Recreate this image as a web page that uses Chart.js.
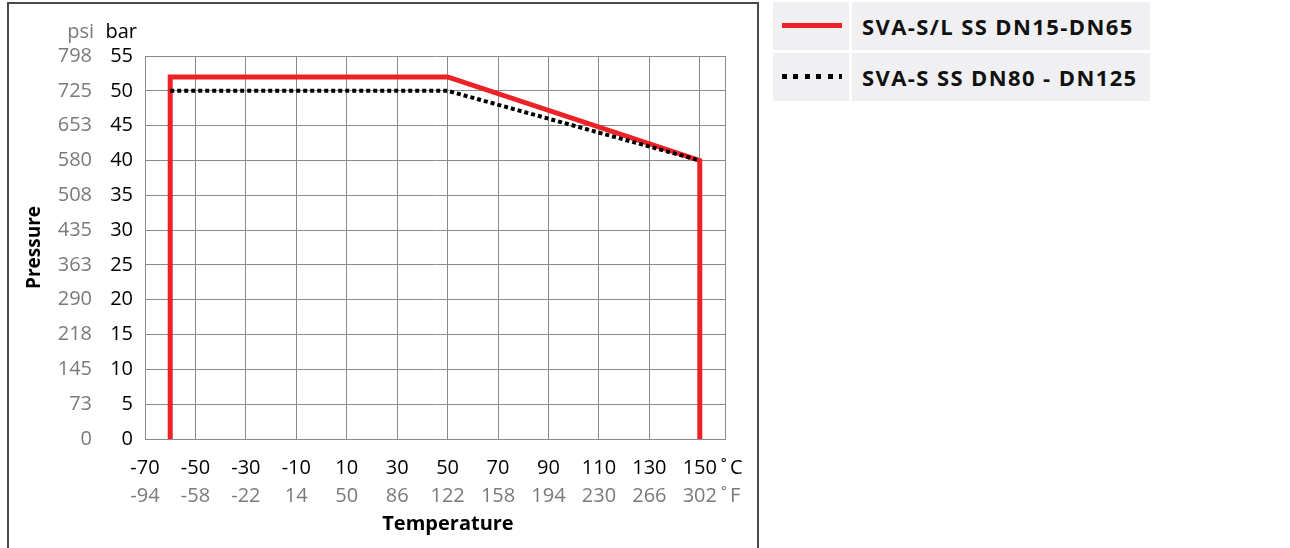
<!DOCTYPE html>
<html lang="en">
<head>
<meta charset="UTF-8">
<script src="https://cdn.jsdelivr.net/npm/chart.js"></script>
<title>Pressure / Temperature</title>
<style>
    body { margin: 0; background: #fff; font-family: "Open Sans", sans-serif; }
    #box { position: absolute; left: 7px; top: 2px; width: 748px; height: 570px; border: 2px solid #4a4a4a; }
    #chart { position: absolute; left: 0; top: 0; }
    #legend { position: absolute; left: 773px; top: 2px; width: 377px; }
    .row { display: flex; height: 48px; margin-bottom: 3px; }
    .sample { width: 76px; margin-right: 3px; background: #f0f0f2; position: relative; }
    .sample span { position: absolute; left: 9px; width: 60px; }
    .name { flex: 1; background: #f0f0f2; font-weight: 700; font-size: 22px; letter-spacing: 1.4px; line-height: 48px; padding-left: 10px; color: #111; }
</style>
</head>
<body>
<div id="box"><canvas id="chart" width="748" height="544"></canvas></div>
<div id="legend"></div>
<script>
    // axis values
    const tempC = [-70, -50, -30, -10, 10, 30, 50, 70, 90, 110, 130, 150];
    const tempF = [-94, -58, -22, 14, 50, 86, 122, 158, 194, 230, 266, 302];
    const pressBar = [0, 5, 10, 15, 20, 25, 30, 35, 40, 45, 50, 55];
    const pressPsi = [0, 73, 145, 218, 290, 363, 435, 508, 580, 653, 725, 798];

    // series
    const seriesNames = ['SVA-S/L SS DN15-DN65', 'SVA-S SS DN80 - DN125'];
    const smallTemp = [-60, -60, 50, 150, 150];
    const smallPress = [0, 52, 52, 40, 0];
    const largeTemp = [-60, 50, 150];
    const largePress = [50, 50, 40];

    const RED = '#ed2227';
    const GRID = '#8a8a8a';
    const GREY = '#7a7a7a';
    const FONT = '"Open Sans", sans-serif';

    const toPoints = (xs, ys) => xs.map((x, i) => ({ x: x, y: ys[i] }));

    // unit headers: psi / bar above the value columns, °C / °F after the last tick
    const units = {
        id: 'units',
        afterDraw(chart) {
            const c = chart.ctx;
            const psi = chart.scales.psi, bar = chart.scales.y;
            const x = chart.scales.x, f = chart.scales.fahr;
            c.save();
            c.font = '20px ' + FONT;
            c.textBaseline = 'middle';
            c.textAlign = 'right';
            c.fillStyle = GREY;
            c.fillText('psi', psi.right - 3, 28);
            c.fillStyle = '#000';
            c.fillText('bar', bar.right - 8, 28);
            c.textAlign = 'left';
            const ux = x.getPixelForValue(tempC[tempC.length - 1]) + 21;
            c.fillText('˚\u2009C', ux, x.top + 29);
            c.fillStyle = GREY;
            c.fillText('˚\u2009F', ux, f.top + 17);
            c.restore();
        }
    };

    const ctx = document.getElementById('chart').getContext('2d');
    const chart = new Chart(ctx, {
        type: 'scatter',
        data: {
            datasets: [{
                label: seriesNames[0],
                data: toPoints(smallTemp, smallPress),
                showLine: true,
                borderColor: RED,
                borderWidth: 5,
                pointRadius: 0,
                fill: false,
                order: 2
            }, {
                label: seriesNames[1],
                data: toPoints(largeTemp, largePress),
                showLine: true,
                borderColor: '#000',
                borderWidth: 4,
                borderDash: [4, 3],
                pointRadius: 0,
                fill: false,
                order: 1
            }]
        },
        options: {
            responsive: false,
            animation: false,
            layout: { padding: { top: 52, right: 32, bottom: 12, left: 0 } },
            plugins: { legend: { display: false }, tooltip: { enabled: false } },
            scales: {
                x: {
                    type: 'linear', position: 'bottom', weight: 0,
                    min: -70, max: 160,
                    afterBuildTicks: s => { s.ticks = tempC.concat([160]).map(v => ({ value: v })); },
                    afterFit: s => { s.height = 40; },
                    grid: { color: GRID, drawTicks: false },
                    border: { color: GRID },
                    ticks: {
                        padding: 17, color: '#000', font: { family: FONT, size: 20 }, maxRotation: 0, autoSkip: false,
                        callback: (v, i) => i < tempC.length ? String(tempC[i]) : ''
                    }
                },
                fahr: {
                    type: 'linear', position: 'bottom', weight: 1,
                    min: -70, max: 160,
                    afterBuildTicks: s => { s.ticks = tempC.concat([160]).map(v => ({ value: v })); },
                    afterFit: s => { s.height = 57; },
                    grid: { display: false, drawTicks: false },
                    border: { display: false },
                    ticks: {
                        padding: 5, color: GREY, font: { family: FONT, size: 20 }, maxRotation: 0, autoSkip: false,
                        callback: (v, i) => i < tempF.length ? String(tempF[i]) : ''
                    },
                    title: { display: true, text: '     Temperature', color: '#000', font: { family: FONT, size: 20, weight: 'bold' }, padding: { top: 0, bottom: 0 } }
                },
                y: {
                    type: 'linear', position: 'left', weight: 0,
                    min: 0, max: 55,
                    afterBuildTicks: s => { s.ticks = pressBar.map(v => ({ value: v })); },
                    afterFit: s => { s.width = 48; },
                    grid: { color: GRID, drawTicks: false },
                    border: { color: GRID },
                    ticks: {
                        padding: 12, color: '#000', font: { family: FONT, size: 20 },
                        callback: (v, i) => String(pressBar[i])
                    }
                },
                psi: {
                    type: 'linear', position: 'left', weight: 1,
                    min: 0, max: 55,
                    afterBuildTicks: s => { s.ticks = pressBar.map(v => ({ value: v })); },
                    afterFit: s => { s.width = 88; },
                    grid: { display: false, drawTicks: false },
                    border: { display: false },
                    ticks: {
                        padding: 5, color: GREY, font: { family: FONT, size: 20 },
                        callback: (v, i) => String(pressPsi[i])
                    },
                    title: { display: true, text: 'Pressure', color: '#000', font: { family: FONT, size: 19, weight: 'bold' }, padding: { top: 14, bottom: 0 } }
                }
            }
        },
        plugins: [units]
    });

    // legend built from the datasets
    const legend = document.getElementById('legend');
    chart.data.datasets.forEach((ds) => {
        const row = document.createElement('div');
        row.className = 'row';
        const sample = document.createElement('div');
        sample.className = 'sample';
        const line = document.createElement('span');
        line.style.top = '21px';
        line.style.height = '5px';
        line.style.background = ds.borderDash
            ? 'repeating-linear-gradient(90deg, #000 0 5px, transparent 5px 11.5px)'
            : ds.borderColor;
        sample.appendChild(line);
        const name = document.createElement('div');
        name.className = 'name';
        name.textContent = ds.label;
        row.appendChild(sample);
        row.appendChild(name);
        legend.appendChild(row);
    });
</script>
</body>
</html>
